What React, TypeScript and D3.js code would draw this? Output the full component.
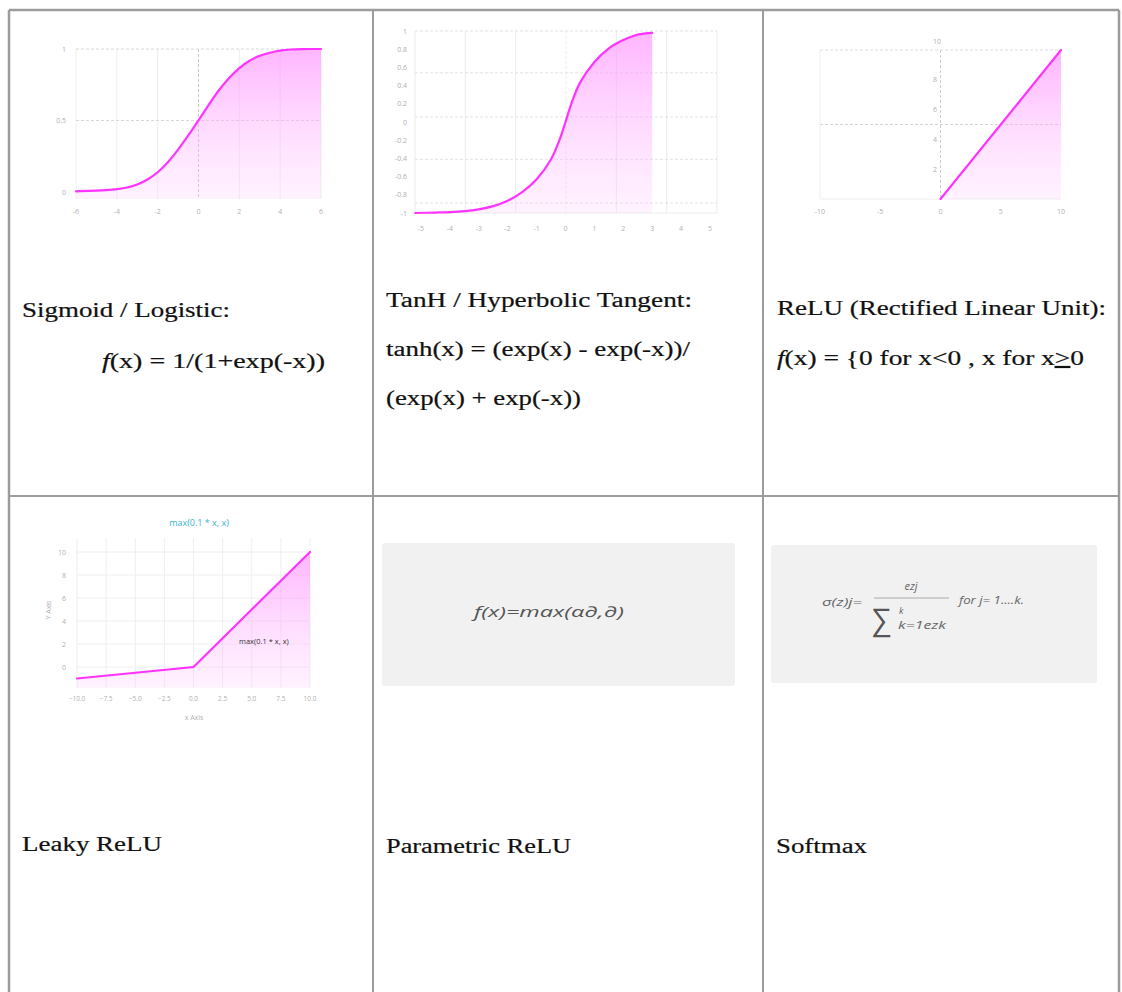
import * as d3 from 'd3';
import React from 'react';

const W = 1122;
const H = 992;

// table lines
const colEdges = [9, 373, 763, 1119];
const rowEdges = [10, 496];

// sigmoid curve
const sigX = [-6, -5, -4, -3.5, -3, -2.5, -2, -1.5, -1, -0.5, 0, 0.5, 1, 1.5, 2, 2.5, 3, 3.5, 4, 4.5, 5, 6];
const sigY = [0.005, 0.008, 0.018, 0.03, 0.05, 0.085, 0.135, 0.205, 0.295, 0.395, 0.5, 0.61, 0.715, 0.8, 0.87, 0.92, 0.955, 0.975, 0.99, 0.997, 1, 1];
const sigXTicks = [-6, -4, -2, 0, 2, 4, 6];
const sigYTicks = [0, 0.5, 1];

// tanh curve
const tanhX = [-5.2, -4.5, -4, -3.5, -3, -2.5, -2, -1.5, -1, -0.5, -0.2, 0, 0.2, 0.5, 1, 1.5, 2, 2.5, 3];
const tanhY = [-1, -0.995, -0.99, -0.98, -0.96, -0.925, -0.865, -0.77, -0.63, -0.41, -0.19, 0, 0.2, 0.43, 0.66, 0.81, 0.9, 0.96, 0.98];
const tanhXTicks = [-5, -4, -3, -2, -1, 0, 1, 2, 3, 4, 5];
const tanhYTicks = [1, 0.8, 0.6, 0.4, 0.2, 0, -0.2, -0.4, -0.6, -0.8, -1];
const tanhGrid = [1, 0.54, 0.055, -0.41, -0.89];

// relu
const reluX = [0, 10];
const reluY = [0, 10];
const reluXTicks = [-10, -5, 0, 5, 10];
const reluYTicks = [2, 4, 6, 8];

// leaky relu
const leakyX = [-10, 0, 10];
const leakyY = [-1, 0, 10];
const leakyXTicks = [-10, -7.5, -5, -2.5, 0, 2.5, 5, 7.5, 10];
const leakyYTicks = [0, 2, 4, 6, 8, 10];

const serif = '"Liberation Serif", "Times New Roman", serif';
const sans = '"Open Sans", "Noto Sans", sans-serif';
const tickStyle = { fontFamily: sans, fontSize: 7, fill: '#b0b0b0' };
const LINE = '#ff33ff';

type Sc = d3.ScaleLinear<number, number>;

const AreaLine = ({ xs, ys, x, y, base, curve = d3.curveBasis }: {
  xs: number[]; ys: number[]; x: Sc; y: Sc; base: number; curve?: d3.CurveFactory;
}) => {
  const pts: [number, number][] = xs.map((v, i) => [v, ys[i]]);
  const area = d3.area<[number, number]>()
    .x(d => x(d[0])).y0(base).y1(d => y(d[1])).curve(curve);
  const line = d3.line<[number, number]>()
    .x(d => x(d[0])).y(d => y(d[1])).curve(curve);
  return (
    <g>
      <path d={area(pts) || ''} fill="url(#pinkFill)" />
      <path d={line(pts) || ''} fill="none" stroke={LINE} strokeWidth={2.2} strokeLinecap="round" />
    </g>
  );
};

const SigmoidChart = () => {
  const x = d3.scaleLinear().domain([-6, 6]).range([76, 321]);
  const y = d3.scaleLinear().domain([0, 1]).range([192, 49]);
  const bottom = 199;
  return (
    <g>
      {sigXTicks.map(t => (
        <line key={t} x1={x(t)} x2={x(t)} y1={49} y2={bottom}
          stroke={t === 0 ? '#c8c8c8' : '#eeeeee'} strokeDasharray={t === 0 ? '3,2' : undefined} />
      ))}
      {[1, 0.5].map(t => (
        <line key={t} x1={76} x2={321} y1={y(t)} y2={y(t)} stroke="#d8d8d8" strokeDasharray="3,2" />
      ))}
      <AreaLine xs={sigX} ys={sigY} x={x} y={y} base={bottom} />
      {sigXTicks.map(t => (
        <text key={t} x={x(t)} y={214} textAnchor="middle" style={tickStyle}>{t}</text>
      ))}
      {sigYTicks.map(t => (
        <text key={t} x={66} y={y(t) + 2.5} textAnchor="end" style={tickStyle}>{t}</text>
      ))}
    </g>
  );
};

const TanhChart = () => {
  const left = 415;
  const right = 717;
  const x = d3.scaleLinear().domain([-5, 5]).range([421, 710]);
  const y = d3.scaleLinear().domain([-1, 1]).range([213, 31]);
  const cols = d3.range(7).map(i => left + (i * (right - left)) / 6);
  return (
    <g>
      {cols.map((c, i) => (
        <line key={i} x1={c} x2={c} y1={31} y2={213} stroke="#ececec" strokeDasharray={i === 3 ? '3,2' : undefined} />
      ))}
      {tanhGrid.map(t => (
        <line key={t} x1={left} x2={right} y1={y(t)} y2={y(t)} stroke="#e2e2e2" strokeDasharray="3,2" />
      ))}
      <line x1={left} x2={right} y1={213} y2={213} stroke="#ececec" />
      <AreaLine xs={tanhX} ys={tanhY} x={x} y={y} base={213} curve={d3.curveCatmullRom} />
      {tanhXTicks.map(t => (
        <text key={t} x={x(t)} y={231} textAnchor="middle" style={tickStyle}>{t}</text>
      ))}
      {tanhYTicks.map(t => (
        <text key={t} x={407} y={y(t) + 2.5} textAnchor="end" style={tickStyle}>{t}</text>
      ))}
    </g>
  );
};

const ReluChart = () => {
  const x = d3.scaleLinear().domain([-10, 10]).range([820, 1061]);
  const y = d3.scaleLinear().domain([0, 10]).range([199, 50]);
  return (
    <g>
      <line x1={820} x2={1061} y1={y(10)} y2={y(10)} stroke="#dddddd" strokeDasharray="3,2" />
      <line x1={820} x2={1061} y1={y(5)} y2={y(5)} stroke="#d4d4d4" strokeDasharray="3,2" />
      <line x1={820} x2={1061} y1={y(0)} y2={y(0)} stroke="#eeeeee" />
      <line x1={820} x2={820} y1={y(10)} y2={y(0)} stroke="#eeeeee" />
      <line x1={x(0)} x2={x(0)} y1={y(10)} y2={y(0)} stroke="#cccccc" strokeDasharray="3,2" />
      <AreaLine xs={reluX} ys={reluY} x={x} y={y} base={y(0)} curve={d3.curveLinear} />
      {reluXTicks.map(t => (
        <text key={t} x={x(t)} y={214} textAnchor="middle" style={tickStyle}>{t}</text>
      ))}
      {reluYTicks.map(t => (
        <text key={t} x={937} y={y(t) + 2.5} textAnchor="end" style={tickStyle}>{t}</text>
      ))}
      <text x={937} y={y(10) - 6} textAnchor="middle" style={tickStyle}>10</text>
    </g>
  );
};

const LeakyChart = () => {
  const x = d3.scaleLinear().domain([-10, 10]).range([77, 310]);
  const y = d3.scaleLinear().domain([0, 10]).range([667, 552]);
  const top = y(11.2);
  const bottom = y(-1.8);
  const fmt = d3.format('.1f');
  return (
    <g>
      {leakyXTicks.map(t => (
        <line key={t} x1={x(t)} x2={x(t)} y1={top} y2={bottom} stroke="#eeeeee" />
      ))}
      {leakyYTicks.map(t => (
        <line key={t} x1={77} x2={310} y1={y(t)} y2={y(t)} stroke="#eeeeee" />
      ))}
      <AreaLine xs={leakyX} ys={leakyY} x={x} y={y} base={bottom} curve={d3.curveLinear} />
      <text x={199} y={526} textAnchor="middle" style={{ fontFamily: sans, fontSize: 9, fill: '#35b3c9' }}>
        max(0.1 * x, x)
      </text>
      <text x={239} y={644} style={{ fontFamily: sans, fontSize: 7.5, fill: '#333' }}>max(0.1 * x, x)</text>
      {leakyXTicks.map(t => (
        <text key={t} x={x(t)} y={701} textAnchor="middle" style={{ ...tickStyle, fontSize: 6.5 }}>{fmt(t)}</text>
      ))}
      {leakyYTicks.map(t => (
        <text key={t} x={66} y={y(t) + 2.5} textAnchor="end" style={tickStyle}>{t}</text>
      ))}
      <text x={194} y={720} textAnchor="middle" style={tickStyle}>x Axis</text>
      <text transform="translate(51,610) rotate(-90)" textAnchor="middle" style={tickStyle}>Y Axis</text>
    </g>
  );
};

const Label = ({ x, y, len, children }: { x: number; y: number; len: number; children: React.ReactNode }) => (
  <text x={x} y={y} textLength={len} lengthAdjust="spacingAndGlyphs"
    style={{ fontFamily: serif, fontSize: 20, fill: '#111', stroke: '#111', strokeWidth: 0.2 }}>
    {children}
  </text>
);

const boxText = { fontFamily: sans, fontStyle: 'italic' as const, fill: '#666' };

const App = () => (
  <svg width={W} height={H} style={{ position: 'absolute', left: 0, top: 0, background: '#fff' }}>
    <defs>
      <linearGradient id="pinkFill" x1="0" y1="0" x2="0" y2="1">
        <stop offset="0%" stopColor="#ff88ff" stopOpacity={0.62} />
        <stop offset="100%" stopColor="#ffccff" stopOpacity={0.25} />
      </linearGradient>
    </defs>

    <SigmoidChart />
    <TanhChart />
    <ReluChart />
    <LeakyChart />

    {/* row 1 texts */}
    <Label x={22} y={317} len={208}>Sigmoid / Logistic:</Label>
    <Label x={102} y={368} len={223}><tspan fontStyle="italic">f</tspan>(x) = 1/(1+exp(-x))</Label>
    <Label x={386} y={307} len={306}>TanH / Hyperbolic Tangent:</Label>
    <Label x={386} y={356} len={304}>tanh(x) = (exp(x) - exp(-x))/</Label>
    <Label x={386} y={405} len={195}>(exp(x) + exp(-x))</Label>
    <Label x={777} y={315} len={329}>ReLU (Rectified Linear Unit):</Label>
    <Label x={777} y={365} len={307}>
      <tspan fontStyle="italic">f</tspan>(x) = {'{'}0 for x&lt;0 , x for x<tspan textDecoration="underline">&gt;</tspan>0
    </Label>

    {/* parametric box */}
    <rect x={382} y={543} width={353} height={143} rx={3} fill="#f1f1f1" />
    <text x={549} y={617} textAnchor="middle" textLength={150} lengthAdjust="spacingAndGlyphs"
      style={{ ...boxText, fontSize: 15, fill: '#555' }}>
      f(x)=max(α∂,∂)
    </text>

    {/* softmax box */}
    <rect x={771} y={545} width={326} height={138} rx={3} fill="#f1f1f1" />
    <text x={822} y={606} textLength={40} lengthAdjust="spacingAndGlyphs" style={{ ...boxText, fontSize: 10 }}>σ(z)j=</text>
    <text x={911} y={590} textAnchor="middle" style={{ ...boxText, fontSize: 11 }}>ezj</text>
    <line x1={874} x2={949} y1={598} y2={598} stroke="#999" strokeWidth={0.8} />
    <text x={872} y={630} style={{ fontFamily: sans, fontSize: 30, fill: '#555' }}>∑</text>
    <text x={899} y={614} style={{ ...boxText, fontSize: 9 }}>k</text>
    <text x={898} y={629} textLength={48} lengthAdjust="spacingAndGlyphs" style={{ ...boxText, fontSize: 10.5 }}>k=1ezk</text>
    <text x={959} y={604} textLength={65} lengthAdjust="spacingAndGlyphs" style={{ ...boxText, fontSize: 10 }}>for j= 1....k.</text>

    {/* row 2 labels */}
    <Label x={22} y={851} len={140}>Leaky ReLU</Label>
    <Label x={386} y={853} len={185}>Parametric ReLU</Label>
    <Label x={776} y={853} len={91}>Softmax</Label>

    {/* table lines */}
    <g stroke="#9c9c9c" strokeWidth={2} fill="none">
      <line x1={colEdges[0]} x2={colEdges[3]} y1={rowEdges[0]} y2={rowEdges[0]} strokeWidth={2.5} />
      <line x1={colEdges[0]} x2={colEdges[3]} y1={rowEdges[1]} y2={rowEdges[1]} />
      {colEdges.map((c, i) => (
        <line key={c} x1={c} x2={c} y1={rowEdges[0]} y2={H}
          strokeWidth={i === 0 || i === 3 ? 2.5 : 2} />
      ))}
    </g>
  </svg>
);

export default App;
